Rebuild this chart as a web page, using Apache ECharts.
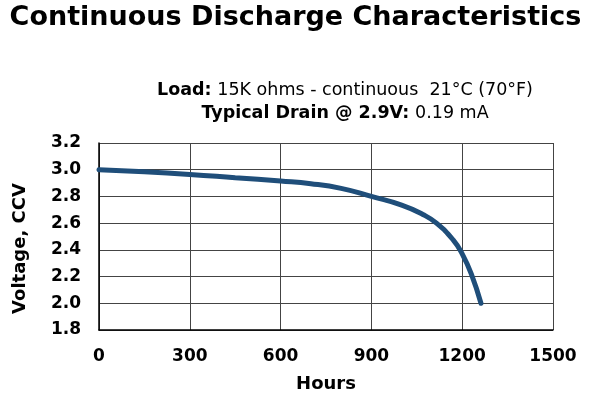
<!DOCTYPE html>
<html><head><meta charset="utf-8">
<script src="https://cdn.jsdelivr.net/npm/echarts@6/dist/echarts.min.js"></script>
<style>html,body{margin:0;padding:0;background:#fff}#c{width:591px;height:396px}</style>
</head><body><div id="c"></div>
<script>
const hours = [0, 150, 300, 450, 600, 700, 800, 900, 1000, 1070, 1115, 1170, 1200, 1230, 1262];
const voltage = [3.00, 2.985, 2.965, 2.94, 2.915, 2.895, 2.86, 2.80, 2.735, 2.665, 2.60, 2.475, 2.37, 2.22, 2.00];
const xTicks = [0, 300, 600, 900, 1200, 1500];
const yTicks = [1.8, 2.0, 2.2, 2.4, 2.6, 2.8, 3.0, 3.2];

const chart = echarts.init(document.getElementById('c'));
const F = '"DejaVu Sans", Verdana, sans-serif';
chart.setOption({
  animation: false,
  title: [{
    text: 'Continuous Discharge Characteristics',
    left: 'center', top: -1,
    textStyle: {fontFamily: F, fontWeight: 'bold', fontSize: 27, color: '#000'}
  }, {
    text: '{b|Load:} {n|15K ohms - continuous  21°C (70°F)}\n{b|Typical Drain @ 2.9V:} {n|0.19 mA}',
    left: 340, top: 74, textAlign: 'center',
    textStyle: {
      fontFamily: F, fontWeight: 'normal', lineHeight: 23, align: 'center',
      rich: {
        b: {fontFamily: F, fontWeight: 'bold', fontSize: 17.5, color: '#000', lineHeight: 23},
        n: {fontFamily: F, fontWeight: 'normal', fontSize: 17.5, color: '#000', lineHeight: 23}
      }
    }
  }],
  grid: {left: 99, right: 38, top: 143, bottom: 66},
  xAxis: {
    type: 'value', min: 0, max: 1500, interval: 300,
    name: 'Hours', nameLocation: 'middle', nameGap: 45,
    nameTextStyle: {fontFamily: F, fontWeight: 'bold', fontSize: 18, color: '#000'},
    axisLine: {lineStyle: {color: '#000', width: 1.5}},
    axisTick: {show: false},
    axisLabel: {fontFamily: F, fontWeight: 'bold', fontSize: 17, color: '#000', margin: 18,
      formatter: v => xTicks.includes(v) ? String(v) : ''},
    splitLine: {show: true, lineStyle: {color: '#444', width: 1}}
  },
  yAxis: {
    type: 'value', min: 1.8, max: 3.2, interval: 0.2,
    name: 'Voltage, CCV', nameLocation: 'middle', nameGap: 70, nameRotate: 90,
    nameTextStyle: {fontFamily: F, fontWeight: 'bold', fontSize: 18, color: '#000', padding: [0, 24, 0, 0]},
    axisLine: {show: true, lineStyle: {color: '#000', width: 1.5}},
    axisTick: {show: false},
    axisLabel: {fontFamily: F, fontWeight: 'bold', fontSize: 17, color: '#000', margin: 18,
      formatter: v => { const t = yTicks.find(y => Math.abs(y - v) < 1e-6); return t !== undefined ? t.toFixed(1) : ''; }},
    splitLine: {show: true, lineStyle: {color: '#444', width: 1}}
  },
  series: [{
    type: 'line', smooth: 0.5, showSymbol: false,
    data: hours.map((h, i) => [h, voltage[i]]),
    lineStyle: {color: '#1f4e7a', width: 5, cap: 'round'}
  }]
});
</script></body></html>
